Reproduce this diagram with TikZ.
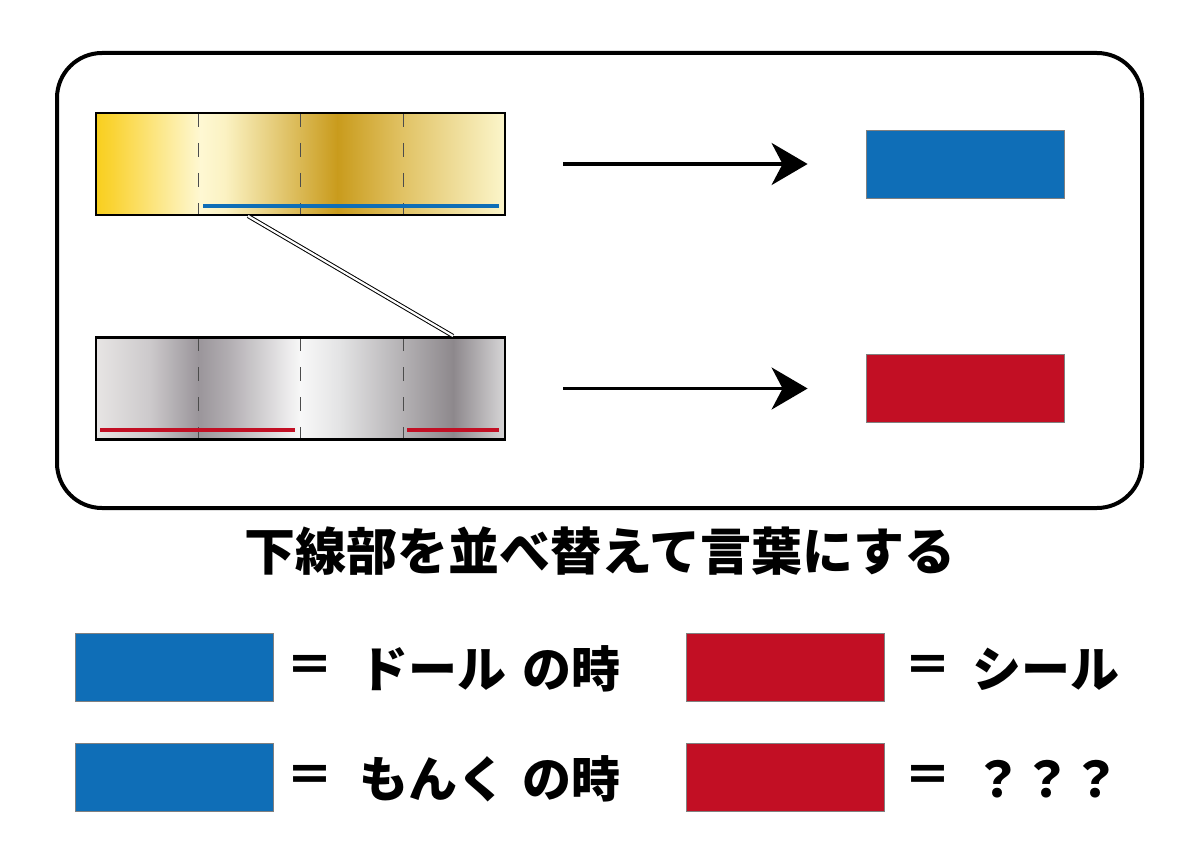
\documentclass[tikz,border=0pt]{standalone}
\usepackage{fontspec}
\newfontfamily\jp{Noto Sans CJK JP}
\usetikzlibrary{arrows.meta}
\definecolor{cblue}{HTML}{0F6EB7}
\definecolor{cred}{HTML}{C20F24}
\definecolor{G0}{HTML}{F8CF1E}
\definecolor{G1}{HTML}{FAD53A}
\definecolor{G2}{HTML}{FEF8D3}
\definecolor{G3}{HTML}{FBF2C2}
\definecolor{G4}{HTML}{C99B1C}
\definecolor{G5}{HTML}{E0C162}
\definecolor{G6}{HTML}{FCF6CC}
\definecolor{S0}{HTML}{E7E5E4}
\definecolor{S1}{HTML}{CCC9CB}
\definecolor{S2}{HTML}{9A959A}
\definecolor{S3}{HTML}{B3AFB3}
\definecolor{S4}{HTML}{F8F8F8}
\definecolor{S5}{HTML}{E3E3E4}
\definecolor{S6}{HTML}{8D888C}
\definecolor{S7}{HTML}{D8D7D8}
\tikzset{
  barbox/.style={draw=black, line width=2.5pt, inner sep=0pt, minimum width=409pt, minimum height=102pt},
  dashline/.style={draw=black!70, line width=1pt, dash pattern=on 14pt off 16pt},
  underline/.style={line width=4pt},
  arr/.style={line width=3.5pt, -{Stealth[length=36pt, width=42pt, inset=11pt]}},
  swatch/.style={draw=black!50, line width=0.8pt, inner sep=0pt, minimum width=198pt, minimum height=68pt},
  jtext/.style={font=\jp\bfseries\fontsize{49}{54}\selectfont, inner sep=0pt},
  eqtext/.style={font=\jp\bfseries\fontsize{47}{50}\selectfont, inner sep=0pt},
  titletext/.style={font=\jp\bfseries\fontsize{51}{56}\selectfont, inner sep=0pt}
}
\begin{document}
\begin{tikzpicture}[x=1pt,y=-1pt]
\useasboundingbox (0,0) rectangle (1200,848);
% outer frame
\node[draw, line width=4pt, rounded corners=45pt, inner sep=0pt, minimum width=1085pt, minimum height=455pt] (frame) at (599.5,280.5) {};
% gold bar shading
\foreach \xa/\ca/\xb/\cb in {96/G0/115/G1,115/G1/200/G2,200/G2/225/G3,225/G3/337/G4,337/G4/400/G5,400/G5/505/G6}
  \shade[left color=\ca, right color=\cb] (\xa,113) rectangle (\xb+0.7,215);
\foreach \x in {198,300,403} \draw[dashline] (\x,113) -- (\x,215);
\draw[underline, cblue] (203,206) -- (499,206);
\node[barbox] (gold) at (300.5,164) {};
% silver bar shading
\foreach \xa/\ca/\xb/\cb in {96/S0/150/S1,150/S1/198/S2,198/S2/230/S3,230/S3/300/S4,300/S4/340/S5,340/S5/453/S6,453/S6/505/S7}
  \shade[left color=\ca, right color=\cb] (\xa,337) rectangle (\xb+0.7,440);
\foreach \x in {198,300,403} \draw[dashline] (\x,337) -- (\x,440);
\draw[underline, cred] (100,430) -- (295,430);
\draw[underline, cred] (407,430) -- (499,430);
\node[barbox] (silver) at (300.5,388.5) {};
% connector
\coordinate (c1) at (248,216);
\coordinate (c2) at (453,336);
\draw[line width=1pt, double=white, double distance=2.2pt] (c1) -- (c2);
% result boxes
\node[swatch, fill=cblue] (b1) at (965,164) {};
\node[swatch, fill=cred] (r1) at (965,388.5) {};
\draw[arr, shorten <=57pt, shorten >=58pt] (gold.east) -- (b1.west);
\draw[arr, shorten <=57pt, shorten >=58pt] (silver.east) -- (r1.west);
% title
\node[titletext] (title) at (600,551) {下線部を並べ替えて言葉にする};
% legend
\node[swatch, fill=cblue] (l1) at (174,667) {};
\node[swatch, fill=cblue] (l2) at (174,777) {};
\node[swatch, fill=cred] (l3) at (785.5,667) {};
\node[swatch, fill=cred] (l4) at (785.5,777) {};
\node[eqtext] (e1) at (310,669) {＝};
\node[eqtext] (e2) at (310,779) {＝};
\node[eqtext] (e3) at (927.5,669) {＝};
\node[eqtext] (e4) at (927.5,779) {＝};
\node[jtext, anchor=west] (t1) at (359,669) {ドール\hspace{0.34em}の時};
\node[jtext, anchor=west] (t2) at (359,779) {もんく\hspace{0.34em}の時};
\node[jtext, anchor=west] (t3) at (972,669) {シール};
\node[jtext] (t4) at (1047,779) {？？？};
\end{tikzpicture}
\end{document}
